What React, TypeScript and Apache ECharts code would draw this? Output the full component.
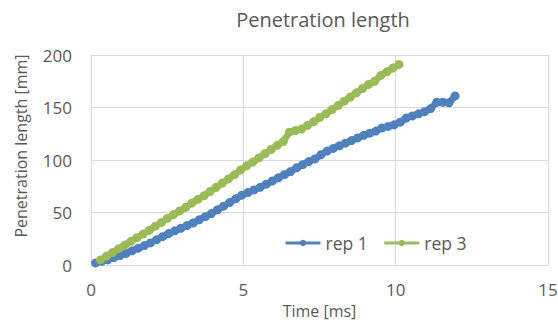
import React, { useEffect, useRef } from "react";
import * as echarts from "echarts";

const rep1Time = [0.15, 0.35, 0.55, 0.75, 0.95, 1.15, 1.35, 1.55, 1.75, 1.95, 2.15, 2.35, 2.55, 2.75, 2.95, 3.15, 3.35, 3.55, 3.75, 3.95, 4.15, 4.35, 4.55, 4.75, 4.95, 5.15, 5.35, 5.55, 5.75, 5.95, 6.15, 6.35, 6.55, 6.75, 6.95, 7.15, 7.35, 7.55, 7.75, 7.95, 8.15, 8.35, 8.55, 8.75, 8.95, 9.15, 9.35, 9.55, 9.75, 9.95, 10.15, 10.35, 10.55, 10.75, 10.95, 11.15, 11.35, 11.55, 11.75, 11.95];
const rep1Length = [2, 3.5, 5, 7, 9, 11, 13.5, 16, 18.5, 21, 24, 27, 30, 32.5, 35, 37.5, 40, 43, 46, 49, 52.5, 56, 59.5, 63, 66.5, 69, 71.5, 74, 77, 80, 83, 86, 89, 92.5, 95.5, 98.5, 101, 105, 108.5, 111, 113.5, 116, 118.5, 121, 123.5, 125.5, 127.5, 130.5, 132, 133.5, 136, 140, 142, 144, 146, 149, 155, 155, 154.5, 161];

const rep3Time = [0.31, 0.51, 0.71, 0.91, 1.11, 1.31, 1.51, 1.71, 1.91, 2.11, 2.31, 2.51, 2.71, 2.91, 3.11, 3.31, 3.51, 3.71, 3.91, 4.11, 4.31, 4.51, 4.71, 4.91, 5.11, 5.31, 5.51, 5.71, 5.91, 6.11, 6.31, 6.51, 6.71, 6.91, 7.11, 7.31, 7.51, 7.71, 7.91, 8.11, 8.31, 8.51, 8.71, 8.91, 9.11, 9.31, 9.51, 9.71, 9.91, 10.11];
const rep3Length = [4.8, 8.5, 12, 15.5, 19, 22.5, 26, 29.5, 33, 37, 40.5, 44.5, 48, 51.5, 55, 59, 62.5, 66, 70, 74, 78, 82, 86, 90.5, 94.5, 98, 102, 106, 110, 114, 117.5, 126.5, 128, 129.5, 133, 136.5, 140.5, 144, 148, 152, 156, 160, 164, 168, 172, 175, 180.5, 184, 187.5, 191];

const seriesNames = ["rep 1", "rep 3"];
const seriesColors = ["#4f81bd", "#9bbb59"];
const xTicks = [0, 5, 10, 15];
const yTicks = [0, 50, 100, 150, 200];

const FONT = "Open Sans";
const GRAY = "#595959";

export default function App() {
  const ref = useRef<HTMLDivElement>(null);
  useEffect(() => {
    if (!ref.current) return;
    const chart = echarts.init(ref.current, undefined, { renderer: "svg" });
    const pair = (t: number[], v: number[]) => t.map((x, i) => [x, v[i]]);
    chart.setOption({
      animation: false,
      backgroundColor: "#ffffff",
      title: {
        text: "Penetration length",
        left: 318,
        textAlign: "center",
        top: 4,
        textStyle: { fontFamily: FONT, fontSize: 20, fontWeight: "normal", color: GRAY },
      },
      grid: { left: 91, right: 10, top: 55, bottom: 57, containLabel: false, outerBoundsMode: "none" },
      legend: {
        data: seriesNames,
        left: 279,
        top: 229,
        itemWidth: 35,
        itemHeight: 8,
        itemGap: 15,
        lineStyle: { width: 3 },
        textStyle: { fontFamily: FONT, fontSize: 17.5, color: GRAY },
      },
      xAxis: {
        type: "value",
        min: xTicks[0],
        max: xTicks[xTicks.length - 1],
        interval: 5,
        name: "Time [ms]",
        nameLocation: "middle",
        nameGap: 25,
        nameTextStyle: { fontFamily: FONT, fontSize: 16, color: GRAY, lineHeight: 17 },
        axisLine: { show: false },
        axisTick: { show: false },
        axisLabel: { fontFamily: FONT, fontSize: 17, color: GRAY, margin: 16 },
        splitLine: { show: true, lineStyle: { color: "#d9d9d9", width: 1 } },
      },
      yAxis: {
        type: "value",
        min: yTicks[0],
        max: yTicks[yTicks.length - 1],
        interval: 50,
        name: "Penetration length [mm]",
        nameLocation: "middle",
        nameGap: 62,
        nameTextStyle: { fontFamily: FONT, fontSize: 16, color: GRAY, padding: [0, 0, 0, 28] },
        axisLine: { show: false },
        axisTick: { show: false },
        axisLabel: { fontFamily: FONT, fontSize: 17, color: GRAY, margin: 19 },
        splitLine: { show: true, lineStyle: { color: "#d9d9d9", width: 1 } },
      },
      series: [
        {
          name: seriesNames[0],
          type: "line",
          data: pair(rep1Time, rep1Length),
          symbol: "circle",
          symbolSize: 9,
          showSymbol: true,
          itemStyle: { color: seriesColors[0] },
          lineStyle: { color: seriesColors[0], width: 6.5 },
        },
        {
          name: seriesNames[1],
          type: "line",
          data: pair(rep3Time, rep3Length),
          symbol: "circle",
          symbolSize: 9,
          showSymbol: true,
          itemStyle: { color: seriesColors[1] },
          lineStyle: { color: seriesColors[1], width: 6.5 },
        },
      ],
    });
    return () => chart.dispose();
  }, []);
  return (
    <div
      ref={ref}
      style={{ position: "fixed", left: 0, top: 0, width: 558, height: 322 }}
    />
  );
}
